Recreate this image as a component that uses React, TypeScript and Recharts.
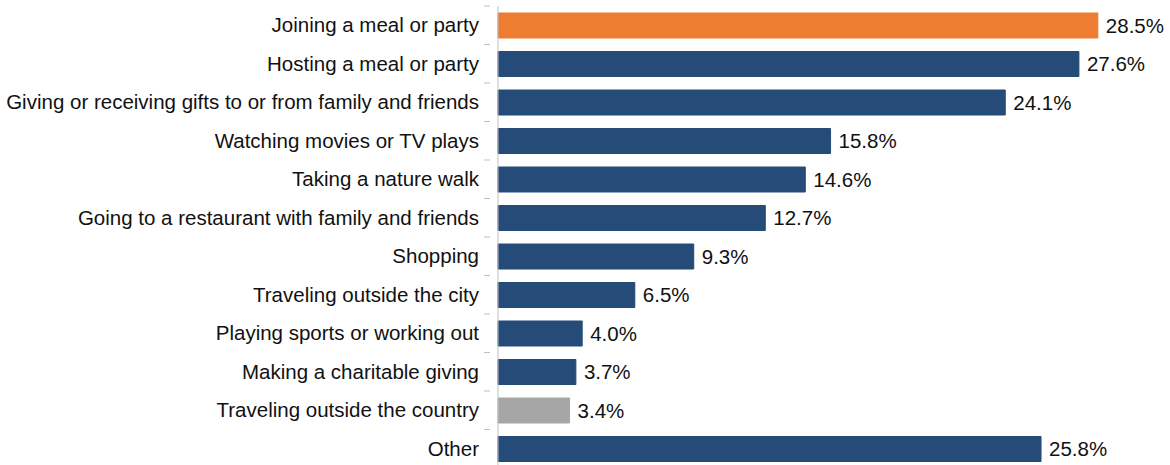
import React from "react";
import { BarChart, Bar, XAxis, YAxis, Cell, LabelList } from "recharts";

const categories = [
  "Joining a meal or party",
  "Hosting a meal or party",
  "Giving or receiving gifts to or from family and friends",
  "Watching movies or TV plays",
  "Taking a nature walk",
  "Going to a restaurant with family and friends",
  "Shopping",
  "Traveling outside the city",
  "Playing sports or working out",
  "Making a charitable giving",
  "Traveling outside the country",
  "Other",
];
const values = [28.5, 27.6, 24.1, 15.8, 14.6, 12.7, 9.3, 6.5, 4.0, 3.7, 3.4, 25.8];
const barColors = [
  "#ED7D31", "#254B78", "#254B78", "#254B78", "#254B78", "#254B78",
  "#254B78", "#254B78", "#254B78", "#254B78", "#A6A6A6", "#254B78",
];

const data = categories.map((c, i) => ({ name: c, value: values[i], color: barColors[i] }));

const BAND = 38.5;
const FONT = "Liberation Sans, Arial, sans-serif";

const CatTick = (props: any) => {
  const { x, y, payload } = props;
  return (
    <g>
      <line x1={x - 6} x2={x} y1={y - BAND / 2} y2={y - BAND / 2} stroke="#BFBFBF" strokeWidth={1} />
      <text x={x - 11} y={y} dy={7} textAnchor="end" fill="#111" fontSize={20.5} fontFamily={FONT}>
        {payload.value}
      </text>
    </g>
  );
};

export default function App() {
  return (
    <div style={{ position: "absolute", left: 0, top: 0, width: 1170, height: 465, overflow: "hidden", background: "#fff" }}>
      <BarChart
        width={1170}
        height={468}
        data={data}
        layout="vertical"
        margin={{ top: 6, right: 9, bottom: 0, left: 0 }}
        barCategoryGap={7}
      >
        <XAxis type="number" domain={[0, 31.5]} hide />
        <YAxis
          type="category"
          dataKey="name"
          width={498}
          axisLine={{ stroke: "#BFBFBF" }}
          tickLine={false}
          tick={<CatTick />}
          interval={0}
        />
        <Bar dataKey="value" isAnimationActive={false}>
          {data.map((d, i) => (
            <Cell key={i} fill={d.color} stroke={d.color} />
          ))}
          <LabelList
            dataKey="value"
            position="right"
            offset={8}
            formatter={(v: any) => `${Number(v).toFixed(1)}%`}
            style={{ fill: "#111", fontSize: 20.5, fontFamily: FONT }}
          />
        </Bar>
      </BarChart>
    </div>
  );
}
